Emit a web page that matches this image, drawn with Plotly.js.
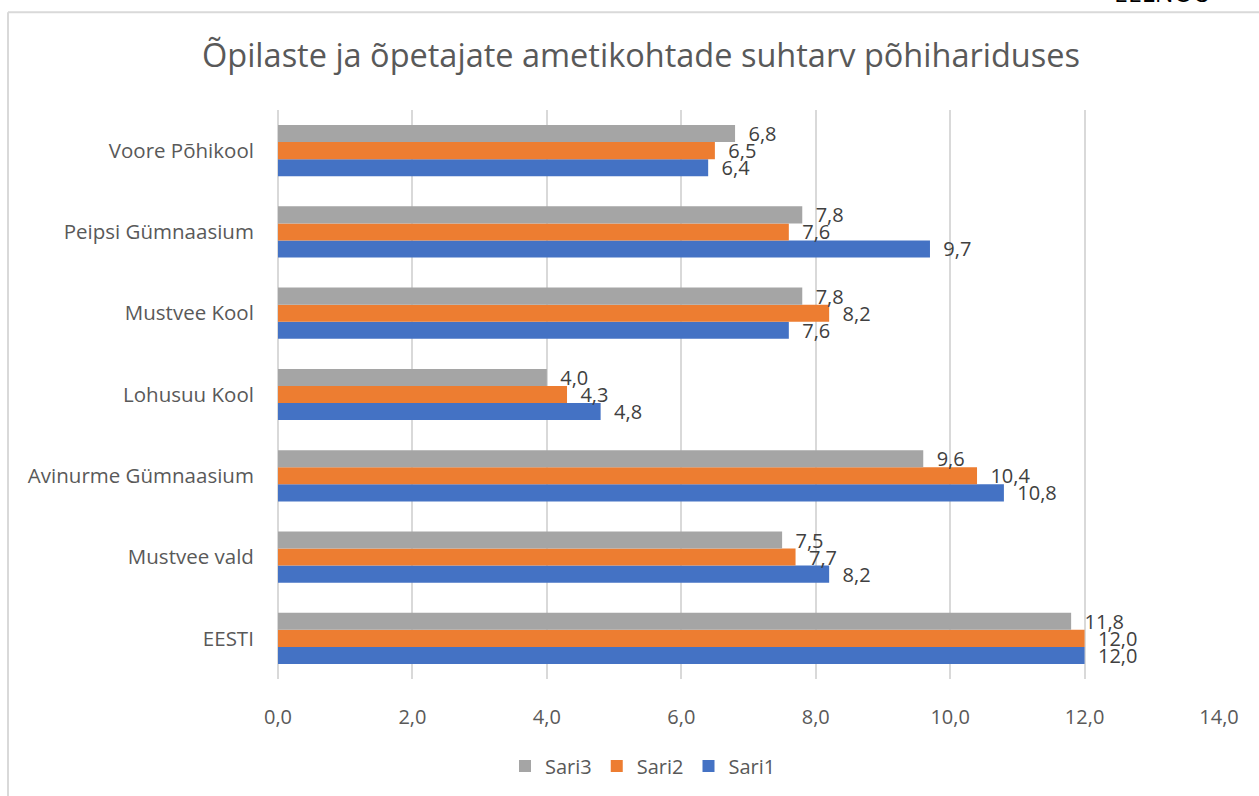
<!DOCTYPE html>
<html>
<head>
<meta charset="utf-8">
<script src="https://cdn.plot.ly/plotly-3.0.1.min.js"></script>
<style>html,body{margin:0;padding:0;background:#fff;}#chart{width:1259px;height:796px;}</style>
</head>
<body>
<div id="chart"></div>
<script>
const categories = ["EESTI", "Mustvee vald", "Avinurme Gümnaasium", "Lohusuu Kool", "Mustvee Kool", "Peipsi Gümnaasium", "Voore Põhikool"];
const sari1 = [12.0, 8.2, 10.8, 4.8, 7.6, 9.7, 6.4];
const sari2 = [12.0, 7.7, 10.4, 4.3, 8.2, 7.6, 6.5];
const sari3 = [11.8, 7.5, 9.6, 4.0, 7.8, 7.8, 6.8];
const xTicks = [0, 2, 4, 6, 8, 10, 12, 14];

const W = 1259, H = 796;
const m = {l: 278, r: 40, t: 110, b: 116};
const pw = W - m.l - m.r, ph = H - m.t - m.b;
const px = v => (v - m.l) / pw;
const py = v => (H - m.b - v) / ph;

const font = "Open Sans, Liberation Sans, sans-serif";
function tr(name, vals, color) {
  return {
    type: 'bar', orientation: 'h', name: name, y: categories, x: vals,
    marker: {color: color},
    texttemplate: '\u00a0\u00a0%{x:.1f}',
    textposition: 'outside', constraintext: 'none', cliponaxis: false,
    textfont: {family: font, size: 20, color: '#404040'},
    hoverinfo: 'x+y'
  };
}
const data = [tr('Sari1', sari1, '#4472C4'), tr('Sari2', sari2, '#ED7D31'), tr('Sari3', sari3, '#A5A5A5')];

const layout = {
  width: W, height: H, margin: m,
  paper_bgcolor: '#fff', plot_bgcolor: '#fff',
  separators: ', ',
  barmode: 'group', bargap: 0.37, bargroupgap: 0,
  title: {text: 'Õpilaste ja õpetajate ametikohtade suhtarv põhihariduses', x: 641 / W, xref: 'container', xanchor: 'center', y: 1 - 56 / H, yref: 'container', yanchor: 'middle',
          font: {family: font, size: 32.5, color: '#595959'}},
  xaxis: {range: [0, 14], tickvals: xTicks, ticktext: xTicks.map(v => v.toFixed(1).replace('.', ',')),
          showgrid: true, gridcolor: '#d9d9d9', gridwidth: 2, zeroline: true, zerolinecolor: '#d9d9d9', zerolinewidth: 2,
          showline: false, ticks: 'outside', ticklen: 20, tickcolor: 'rgba(0,0,0,0)',
          tickfont: {family: font, size: 20, color: '#595959'}, fixedrange: true},
  yaxis: {type: 'category', categoryorder: 'array', categoryarray: categories, showgrid: false, zeroline: false, showline: false,
          ticks: 'outside', ticklen: 19, tickcolor: 'rgba(0,0,0,0)',
          tickfont: {family: font, size: 20.5, color: '#595959'}, fixedrange: true},
  legend: {orientation: 'h', traceorder: 'reversed', x: px(643), xanchor: 'center', y: py(766), yanchor: 'middle',
           font: {family: font, size: 20, color: '#595959'}, itemwidth: 30},
  showlegend: true,
  shapes: [
    {type: 'line', xref: 'paper', yref: 'paper', x0: px(8), x1: px(1262), y0: py(12), y1: py(12), line: {color: '#d9d9d9', width: 2}},
    {type: 'line', xref: 'paper', yref: 'paper', x0: px(8), x1: px(8), y0: py(12), y1: py(800), line: {color: '#d9d9d9', width: 2}}
  ],
  annotations: [
    {text: 'EELNÕU', xref: 'paper', yref: 'paper', x: px(1213), xanchor: 'right', y: py(11), yanchor: 'bottom', showarrow: false,
     font: {family: font, size: 25, color: '#000'}}
  ]
};
Plotly.newPlot('chart', data, layout, {displayModeBar: false, staticPlot: true});
</script>
</body>
</html>
